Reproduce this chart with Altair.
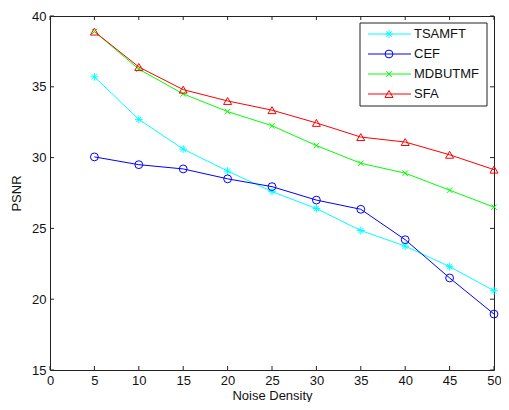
import altair as alt
import pandas as pd

noise = [5, 10, 15, 20, 25, 30, 35, 40, 45, 50]
tsamft = [35.7, 32.7, 30.6, 29.05, 27.6, 26.4, 24.85, 23.75, 22.3, 20.6]
cef = [30.05, 29.5, 29.2, 28.5, 27.95, 27.0, 26.35, 24.2, 21.5, 18.95]
mdbutmf = [38.9, 36.25, 34.5, 33.25, 32.25, 30.85, 29.6, 28.9, 27.7, 26.5]
sfa = [38.9, 36.4, 34.8, 34.0, 33.35, 32.45, 31.45, 31.1, 30.2, 29.15]
series = ["TSAMFT", "CEF", "MDBUTMF", "SFA"]
x_ticks = [0, 5, 10, 15, 20, 25, 30, 35, 40, 45, 50]
y_ticks = [15, 20, 25, 30, 35, 40]

colors = ["#00FFFF", "#0000FF", "#00FF00", "#FF0000"]
shapes = [
    "M-1,0L1,0M0,-1L0,1M-0.7,-0.7L0.7,0.7M-0.7,0.7L0.7,-0.7",
    "circle",
    "M-0.7,-0.7L0.7,0.7M-0.7,0.7L0.7,-0.7",
    "triangle-up",
]
sizes = [60, 64, 40, 100]

W, H = 444, 354
FONT = "Liberation Sans"

rows = []
for name, vals in zip(series, [tsamft, cef, mdbutmf, sfa]):
    for x, y in zip(noise, vals):
        rows.append({"series": name, "noise": x, "psnr": y})
df = pd.DataFrame(rows)

xs = alt.Scale(domain=[0, 50], nice=False, zero=False)
ys = alt.Scale(domain=[15, 40], nice=False, zero=False)
col = alt.Color("series:N", scale=alt.Scale(domain=series, range=colors), legend=None)
shp = alt.Shape("series:N", scale=alt.Scale(domain=series, range=shapes), legend=None)
siz = alt.Size("series:N", scale=alt.Scale(domain=series, range=sizes), legend=None)

xaxis = alt.Axis(values=x_ticks, title="Noise Density", labelPadding=4, titlePadding=2,
                 labelFlush=False)
yaxis = alt.Axis(values=y_ticks, title="PSNR", labelPadding=4, titlePadding=8)

lines = alt.Chart(df).mark_line(strokeWidth=1).encode(
    x=alt.X("noise:Q", scale=xs, axis=xaxis),
    y=alt.Y("psnr:Q", scale=ys, axis=yaxis),
    color=col,
    detail="series:N",
)
points = alt.Chart(df).mark_point(filled=False, strokeWidth=1, opacity=1).encode(
    x=alt.X("noise:Q", scale=xs),
    y=alt.Y("psnr:Q", scale=ys),
    color=col, shape=shp, size=siz,
)

xt = pd.DataFrame({"v": x_ticks})
yt = pd.DataFrame({"v": y_ticks})
tick_color = "#222222"
tb = alt.Chart(xt).mark_rule(color=tick_color, strokeWidth=1).encode(
    x=alt.X("v:Q", scale=xs), y=alt.value(H), y2=alt.value(H - 4))
tt = alt.Chart(xt).mark_rule(color=tick_color, strokeWidth=1).encode(
    x=alt.X("v:Q", scale=xs), y=alt.value(0), y2=alt.value(4))
tl = alt.Chart(yt).mark_rule(color=tick_color, strokeWidth=1).encode(
    y=alt.Y("v:Q", scale=ys), x=alt.value(0), x2=alt.value(4))
tr = alt.Chart(yt).mark_rule(color=tick_color, strokeWidth=1).encode(
    y=alt.Y("v:Q", scale=ys), x=alt.value(W), x2=alt.value(W - 4))

main = alt.layer(lines, points, tb, tt, tl, tr)

leg_df = pd.DataFrame({"series": series})
ly = alt.Y("series:N", scale=alt.Scale(type="point", domain=series, range=[18, 78], padding=0),
           axis=None)
box = alt.Chart(pd.DataFrame({"a": [0]})).mark_rect(
    fill="white", stroke="#222222", strokeWidth=1).encode(
    x=alt.value(310), x2=alt.value(437), y=alt.value(7), y2=alt.value(90))
lrule = alt.Chart(leg_df).mark_rule(strokeWidth=1).encode(
    y=ly, x=alt.value(318), x2=alt.value(361), color=col)
lpt = alt.Chart(leg_df).mark_point(filled=False, strokeWidth=1, opacity=1).encode(
    y=ly, x=alt.value(339), color=col, shape=shp, size=siz)
ltxt = alt.Chart(leg_df).mark_text(align="left", baseline="middle", font=FONT,
                                   fontSize=13, color="#111111").encode(
    y=ly, x=alt.value(364), text="series:N")
legend = alt.layer(box, lrule, lpt, ltxt)

chart = alt.layer(main, legend).resolve_scale(y="independent").properties(
    width=W, height=H,
    autosize=alt.AutoSizeParams(type="none"),
    padding={"left": 42, "top": 8, "right": 7, "bottom": 32},
    background="white",
).configure_view(stroke="#222222", strokeWidth=1).configure_axis(
    grid=False, domain=False, ticks=False,
    labelFont=FONT, labelFontSize=13, labelColor="#111111",
    titleFont=FONT, titleFontSize=13, titleFontWeight="normal", titleColor="#111111",
)

chart.save("out.html", embed_options={"renderer": "svg", "actions": False})
